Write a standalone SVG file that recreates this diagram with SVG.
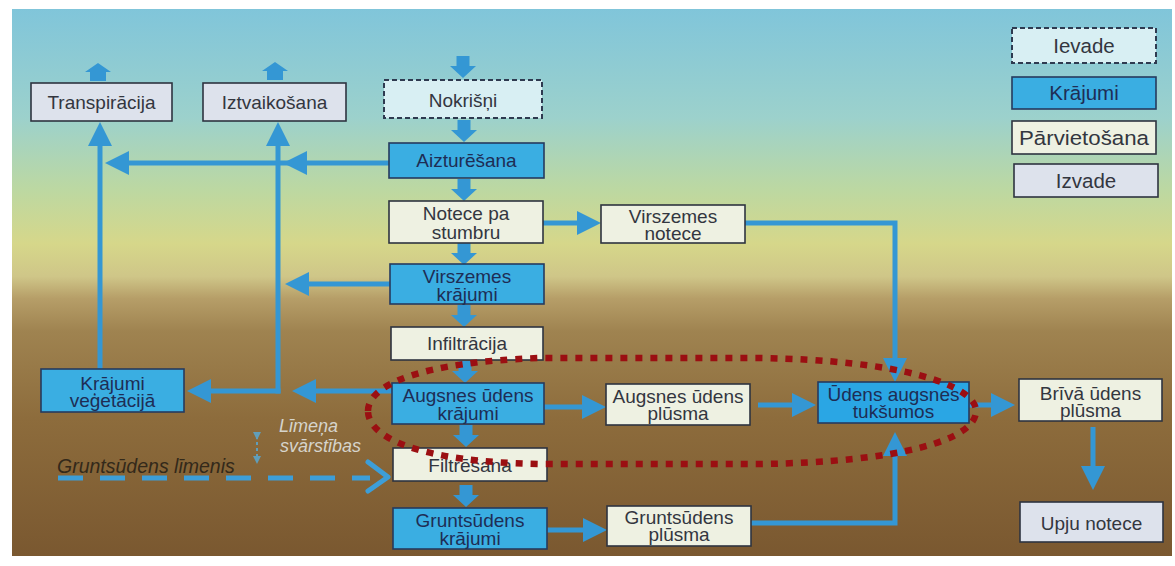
<svg xmlns="http://www.w3.org/2000/svg" width="1175" height="566" viewBox="0 0 1175 566">
  <style>
    text { font-family: "Liberation Sans", Arial, sans-serif; font-size: 19px; fill: #33363f; text-anchor: middle; }
    .store { fill: #3aaee2; stroke: #263a5e; stroke-width: 1.6; }
    .store-t { fill: #1e2d55; }
    .move { fill: #eef1e2; stroke: #2e3440; stroke-width: 1.6; }
    .out { fill: #dde2ec; stroke: #2e3440; stroke-width: 1.6; }
    .in { fill: #d8eff3; stroke: #2e3a50; stroke-width: 2; stroke-dasharray: 5 3; }
    .leg { font-size: 20.5px; }
    .conn { fill: none; stroke: #3497d4; stroke-width: 5; }
    .blk { fill: #3497d4; }
  </style>
  <defs>
    <linearGradient id="bg" x1="0" y1="8" x2="0" y2="556" gradientUnits="userSpaceOnUse">
      <stop offset="0" stop-color="#80c5da"/>
      <stop offset="0.2" stop-color="#9cd1cc"/>
      <stop offset="0.33" stop-color="#bcd8a2"/>
      <stop offset="0.43" stop-color="#d6d78a"/>
      <stop offset="0.49" stop-color="#cfc688"/>
      <stop offset="0.53" stop-color="#b69e68"/>
      <stop offset="0.59" stop-color="#9f8350"/>
      <stop offset="0.75" stop-color="#8d6c3c"/>
      <stop offset="1" stop-color="#7a5830"/>
    </linearGradient>
    <marker id="ah" viewBox="0 0 24 24" markerWidth="24" markerHeight="24" markerUnits="userSpaceOnUse" refX="18" refY="12" orient="auto">
      <path d="M0,0 L24,12 L0,24 Z" fill="#3497d4"/>
    </marker>
    <marker id="sh" viewBox="0 0 10 10" markerWidth="8" markerHeight="8" markerUnits="userSpaceOnUse" refX="5" refY="5" orient="auto">
      <path d="M0,0 L10,5 L0,10 Z" fill="#5aa8d0"/>
    </marker>
    <path id="da" d="M-6.5,0 H6.5 V10 H13 L0,22 L-13,10 H-6.5 Z"/>
    <path id="ua" d="M0,0 L13,9 H8 V18 H-8 V9 H-13 Z"/>
  </defs>

  <rect x="0" y="0" width="1175" height="566" fill="#ffffff"/>
  <rect x="12" y="9" width="1160" height="547" fill="url(#bg)"/>

  <g id="connectors">
    <path class="conn" d="M390,163 H289" marker-end="url(#ah)"/>
    <path class="conn" d="M300,163 H111" marker-end="url(#ah)"/>
    <path class="conn" d="M100,369 V128" marker-end="url(#ah)"/>
    <path class="conn" d="M278,393.5 V128" marker-end="url(#ah)"/>
    <path class="conn" d="M280.5,391 H193" marker-end="url(#ah)"/>
    <path class="conn" d="M390,284 H291" marker-end="url(#ah)"/>
    <path class="conn" d="M392,391 H298" marker-end="url(#ah)"/>
    <path class="conn" d="M543,223 H595" marker-end="url(#ah)"/>
    <path class="conn" d="M745,223 H895 V376" marker-end="url(#ah)"/>
    <path class="conn" d="M544,407 H600" marker-end="url(#ah)"/>
    <path class="conn" d="M758,405 H810" marker-end="url(#ah)"/>
    <path class="conn" d="M969,405 H1009" marker-end="url(#ah)"/>
    <path class="conn" d="M1093,427 V484" marker-end="url(#ah)"/>
    <path class="conn" d="M547,530 H601" marker-end="url(#ah)"/>
    <path class="conn" d="M751,523 H895 V438" marker-end="url(#ah)"/>
    <g class="blk">
      <use href="#da" transform="translate(463,56)"/>
      <use href="#da" transform="translate(464,120)"/>
      <use href="#da" transform="translate(464,179)"/>
      <use href="#da" transform="translate(464,243)"/>
      <use href="#da" transform="translate(464,305)"/>
      <use href="#da" transform="translate(465,361)"/>
      <use href="#da" transform="translate(466,425)"/>
      <use href="#da" transform="translate(466,485)"/>
      <use href="#ua" transform="translate(98,63)"/>
      <use href="#ua" transform="translate(275,62)"/>
    </g>
    <path d="M58,478 H370" fill="none" stroke="#3d9ed8" stroke-width="5" stroke-dasharray="25 17"/>
    <path d="M368,462 L388,477 L368,491" fill="none" stroke="#3d9ed8" stroke-width="5" stroke-linejoin="round" stroke-linecap="round"/>
    <path d="M257,436 V460" fill="none" stroke="#5aa8d0" stroke-width="2" stroke-dasharray="3 3" marker-start="url(#sh)" marker-end="url(#sh)" opacity="0.85"/>
  </g>

  <g id="n-transpiracija">
    <rect class="out" x="31" y="83" width="141" height="38"/>
    <text x="101.5" y="109">Transpirācija</text>
  </g>
  <g id="n-iztvaikosana">
    <rect class="out" x="203" y="83" width="143" height="38"/>
    <text x="274.5" y="109">Iztvaikošana</text>
  </g>
  <g id="n-nokrisni">
    <rect class="in" x="384" y="80" width="158" height="38"/>
    <text x="463" y="106.5">Nokrišņi</text>
  </g>
  <g id="n-aizturesana">
    <rect class="store" x="389" y="143" width="155" height="35"/>
    <text class="store-t" x="466.5" y="167">Aizturēšana</text>
  </g>
  <g id="n-notece-stumbru">
    <rect class="move" x="389" y="201" width="154" height="42"/>
    <text x="466" y="219.5">Notece pa<tspan x="466" dy="19">stumbru</tspan></text>
  </g>
  <g id="n-virszemes-krajumi">
    <rect class="store" x="390" y="264" width="154" height="40"/>
    <text class="store-t" x="467" y="283">Virszemes<tspan x="467" dy="18">krājumi</tspan></text>
  </g>
  <g id="n-infiltracija">
    <rect class="move" x="391" y="327" width="152" height="33"/>
    <text x="467" y="350">Infiltrācija</text>
  </g>
  <g id="n-augsnes-krajumi">
    <rect class="store" x="392" y="383" width="152" height="41"/>
    <text class="store-t" x="468" y="402">Augsnes ūdens<tspan x="468" dy="18">krājumi</tspan></text>
  </g>
  <g id="n-filtresana">
    <rect class="move" x="393" y="448" width="154" height="33"/>
    <text x="470" y="471.5">Filtrēšana</text>
  </g>
  <g id="n-gruntsudens-krajumi">
    <rect class="store" x="393" y="508" width="154" height="41"/>
    <text class="store-t" x="470" y="527">Gruntsūdens<tspan x="470" dy="18">krājumi</tspan></text>
  </g>
  <g id="n-virszemes-notece">
    <rect class="move" x="601" y="205" width="144" height="38"/>
    <text x="673" y="222.5">Virszemes<tspan x="673" dy="17">notece</tspan></text>
  </g>
  <g id="n-augsnes-plusma">
    <rect class="move" x="606" y="384" width="144" height="41"/>
    <text x="678" y="403">Augsnes ūdens<tspan x="678" dy="17">plūsma</tspan></text>
  </g>
  <g id="n-udens-tuksumos">
    <rect class="store" x="818" y="382" width="151" height="41" style="fill:#2aa6e4"/>
    <text class="store-t" x="893.5" y="401">Ūdens augsnes<tspan x="893.5" dy="17">tukšumos</tspan></text>
  </g>
  <g id="n-briva-plusma">
    <rect class="move" x="1019" y="379" width="143" height="42"/>
    <text x="1090.5" y="399.5">Brīvā ūdens<tspan x="1090.5" dy="17">plūsma</tspan></text>
  </g>
  <g id="n-upju-notece">
    <rect class="out" x="1020" y="502" width="143" height="40"/>
    <text x="1091.5" y="529.5">Upju notece</text>
  </g>
  <g id="n-gruntsudens-plusma">
    <rect class="move" x="607" y="506" width="144" height="40"/>
    <text x="679" y="524">Gruntsūdens<tspan x="679" dy="17">plūsma</tspan></text>
  </g>
  <g id="n-krajumi-vegetacija">
    <rect class="store" x="41" y="369" width="143" height="43"/>
    <text class="store-t" x="112.5" y="389.5">Krājumi<tspan x="112.5" dy="17">veģetācijā</tspan></text>
  </g>

  <g id="legend">
    <g id="leg-ievade">
      <rect class="in" x="1012" y="28" width="144" height="35"/>
      <text class="leg" x="1084" y="52.5">Ievade</text>
    </g>
    <g id="leg-krajumi">
      <rect class="store" x="1012" y="77" width="144" height="32"/>
      <text class="leg store-t" x="1084" y="100">Krājumi</text>
    </g>
    <g id="leg-parvietosana">
      <rect class="move" x="1012" y="121" width="144" height="33"/>
      <text class="leg" x="1084" y="144.5" textLength="130" lengthAdjust="spacingAndGlyphs">Pārvietošana</text>
    </g>
    <g id="leg-izvade">
      <rect class="out" x="1014" y="164" width="144" height="33"/>
      <text class="leg" x="1086" y="187.5">Izvade</text>
    </g>
  </g>

  <g id="labels">
    <text x="57" y="473" style="text-anchor:start;font-style:italic;font-size:19.5px;fill:#33291a">Gruntsūdens līmenis</text>
    <text x="279" y="432" style="text-anchor:start;font-style:italic;font-size:18px;fill:#d6d4cc">Līmeņa<tspan x="280" dy="20">svārstības</tspan></text>
  </g>

  <g id="highlight">
    <path d="M368,411 C368,385 420,362 540,358 L760,358 C900,360 976,385 976,411 C976,440 900,462 760,464 L540,464 C420,462 368,438 368,411 Z" fill="none" stroke="#9b0f12" stroke-width="6.5" stroke-dasharray="7 8"/>
  </g>
</svg>
